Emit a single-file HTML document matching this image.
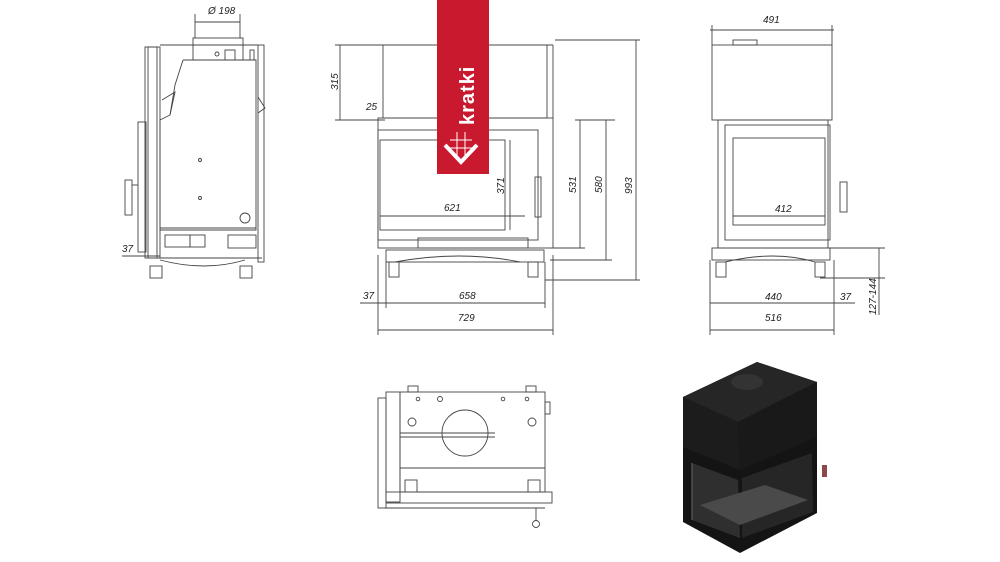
<!DOCTYPE html>
<html><head><meta charset="utf-8"><style>
html,body{margin:0;padding:0;background:#fff;width:1000px;height:562px;overflow:hidden}
text{font-family:"Liberation Sans",sans-serif;font-style:italic;font-size:10px;fill:#222}
</style></head><body>
<svg width="1000" height="562" viewBox="0 0 1000 562" xmlns="http://www.w3.org/2000/svg">
<g stroke="#444" stroke-width="0.9" fill="none">
<!-- LEFT SIDE VIEW -->
<rect x="145" y="47" width="15" height="211"/>
<rect x="148" y="47" width="9" height="211"/>
<polyline points="160,45 258,45"/>
<rect x="258" y="45" width="6" height="217"/>
<polyline points="183,60 256,60 256,230 160,230 160,120 170,115 175,85 183,60"/>
<polyline points="162,100 175,92 170,115"/>
<rect x="193" y="38" width="50" height="22"/>
<line x1="195" y1="22" x2="240" y2="22"/>
<line x1="195" y1="14" x2="195" y2="38"/><line x1="240" y1="14" x2="240" y2="38"/>
<circle cx="217" cy="54" r="2"/><rect x="225" y="50" width="10" height="10"/>
<rect x="250" y="50" width="4" height="10"/>
<rect x="138" y="122" width="8" height="130"/>
<rect x="125" y="180" width="7" height="35"/><line x1="132" y1="185" x2="138" y2="185"/>
<polyline points="258,97 265,108 258,113"/>
<line x1="160" y1="228" x2="256" y2="228"/>
<rect x="165" y="235" width="25" height="12"/><rect x="190" y="235" width="15" height="12"/>
<rect x="228" y="235" width="28" height="13"/>
<line x1="150" y1="258" x2="262" y2="258"/>
<path d="M160 260 Q205 272 245 260"/>
<rect x="150" y="266" width="12" height="12"/><rect x="240" y="266" width="12" height="12"/>
<circle cx="245" cy="218" r="5"/>
<circle cx="200" cy="160" r="1.5"/><circle cx="200" cy="198" r="1.5"/>
<line x1="122" y1="256" x2="160" y2="256"/>
<!-- FRONT VIEW -->
<rect x="383" y="45" width="164" height="73"/>
<line x1="383" y1="45" x2="553" y2="45"/><line x1="553" y1="45" x2="553" y2="118"/>
<rect x="378" y="118" width="175" height="130"/>
<rect x="378" y="130" width="160" height="110"/>
<rect x="380" y="140" width="125" height="90"/>
<rect x="418" y="238" width="110" height="10"/>
<rect x="386" y="250" width="158" height="12"/>
<path d="M395 262 Q460 250 520 262"/>
<rect x="389" y="262" width="10" height="15"/><rect x="528" y="262" width="10" height="15"/>
<rect x="535" y="177" width="6" height="40"/>
<line x1="335" y1="45" x2="385" y2="45"/><line x1="335" y1="120" x2="385" y2="120"/>
<line x1="340" y1="45" x2="340" y2="120"/>
<line x1="555" y1="40" x2="640" y2="40"/><line x1="636" y1="40" x2="636" y2="280"/>
<line x1="545" y1="280" x2="640" y2="280"/>
<line x1="575" y1="120" x2="615" y2="120"/>
<line x1="580" y1="120" x2="580" y2="248"/><line x1="550" y1="248" x2="585" y2="248"/>
<line x1="606" y1="120" x2="606" y2="260"/><line x1="550" y1="260" x2="612" y2="260"/>
<line x1="510" y1="140" x2="510" y2="230"/>
<line x1="380" y1="216" x2="525" y2="216"/>
<line x1="360" y1="303" x2="545" y2="303"/>
<line x1="378" y1="330" x2="553" y2="330"/>
<line x1="378" y1="255" x2="378" y2="335"/><line x1="553" y1="255" x2="553" y2="335"/>
<line x1="386" y1="262" x2="386" y2="308"/><line x1="545" y1="262" x2="545" y2="308"/>
<!-- RIGHT VIEW -->
<rect x="712" y="45" width="120" height="75"/>
<rect x="733" y="40" width="24" height="5"/>
<rect x="718" y="120" width="110" height="128"/>
<rect x="725" y="125" width="105" height="115"/>
<rect x="733" y="138" width="92" height="87"/>
<rect x="840" y="182" width="7" height="30"/>
<rect x="712" y="248" width="118" height="12"/>
<path d="M725 262 Q775 250 815 262"/>
<rect x="716" y="262" width="10" height="15"/><rect x="815" y="262" width="10" height="15"/>
<line x1="710" y1="30" x2="834" y2="30"/>
<line x1="712" y1="25" x2="712" y2="45"/><line x1="832" y1="25" x2="832" y2="45"/>
<line x1="733" y1="216" x2="825" y2="216"/>
<line x1="710" y1="303" x2="855" y2="303"/>
<line x1="710" y1="330" x2="834" y2="330"/>
<line x1="710" y1="260" x2="710" y2="335"/><line x1="834" y1="260" x2="834" y2="335"/>
<line x1="820" y1="248" x2="885" y2="248"/><line x1="820" y1="278" x2="885" y2="278"/>
<line x1="879" y1="248" x2="879" y2="315"/>
<!-- BOTTOM PLAN -->
<rect x="400" y="392" width="145" height="100"/>
<line x1="400" y1="468" x2="545" y2="468"/>
<rect x="378" y="398" width="8" height="110"/>
<rect x="386" y="392" width="14" height="110"/>
<rect x="386" y="492" width="166" height="11"/>
<line x1="384" y1="508" x2="545" y2="508"/>
<circle cx="465" cy="433" r="23"/>
<line x1="400" y1="433" x2="495" y2="433"/><line x1="400" y1="437" x2="495" y2="437"/>
<circle cx="418" cy="399" r="1.8"/><circle cx="440" cy="399" r="2.5"/>
<circle cx="503" cy="399" r="1.8"/><circle cx="527" cy="399" r="1.8"/>
<circle cx="412" cy="422" r="4"/><circle cx="532" cy="422" r="4"/>
<rect x="405" y="480" width="12" height="12"/><rect x="528" y="480" width="12" height="12"/>
<rect x="408" y="386" width="10" height="6"/><rect x="526" y="386" width="10" height="6"/>
<circle cx="536" cy="524" r="3.5"/><line x1="536" y1="508" x2="536" y2="520"/>
<rect x="545" y="402" width="5" height="12"/>
</g>
<text x="208" y="14">Ø 198</text>
<text x="122" y="252">37</text>
<text transform="translate(338,90) rotate(-90)">315</text>
<text x="366" y="110">25</text>
<text x="444" y="211">621</text>
<text transform="translate(504,194) rotate(-90)">371</text>
<text transform="translate(576,193) rotate(-90)">531</text>
<text transform="translate(602,193) rotate(-90)">580</text>
<text transform="translate(632,194) rotate(-90)">993</text>
<text x="363" y="299">37</text>
<text x="459" y="299">658</text>
<text x="458" y="321">729</text>
<text x="763" y="23">491</text>
<text x="775" y="212">412</text>
<text x="765" y="300">440</text>
<text x="840" y="300">37</text>
<text x="765" y="321">516</text>
<text transform="translate(876,315) rotate(-90)">127-144</text>
<rect x="437" y="0" width="52" height="174" fill="#c8192e"/>
<text transform="translate(474,125) rotate(-90)" style="font-style:normal;font-weight:bold;font-size:20px;fill:#fff;letter-spacing:1px">kratki</text>
<g stroke="#fff" stroke-width="4" fill="none"><polyline points="445,145 461,162 477,145"/></g>
<g stroke="#fff" stroke-width="1" fill="none">
<line x1="450" y1="140" x2="472" y2="140"/><line x1="450" y1="148" x2="472" y2="148"/>
<line x1="457" y1="132" x2="457" y2="158"/><line x1="465" y1="132" x2="465" y2="158"/>
</g>
<!-- 3D render -->
<polygon points="683,397 757,362 817,382 817,513 740,553 683,522" fill="#141414"/>
<polygon points="683,397 757,362 817,382 738,422" fill="#262626"/>
<ellipse cx="747" cy="382" rx="16" ry="8" fill="#333"/>
<polygon points="683,397 738,422 740,470 683,447" fill="#1c1c1c"/>
<polygon points="738,422 817,382 817,437 740,470" fill="#191919"/>
<polygon points="692,463 738,480 740,538 692,520" fill="#2f2f2f"/>
<polygon points="742,478 812,453 813,512 742,538" fill="#262626"/>
<polygon points="700,505 740,525 808,500 765,485" fill="#4a4a4a"/>
<line x1="692" y1="463" x2="692" y2="520" stroke="#666" stroke-width="1"/>
<rect x="822" y="465" width="5" height="12" fill="#8a4a4a"/>
</svg>
</body></html>
